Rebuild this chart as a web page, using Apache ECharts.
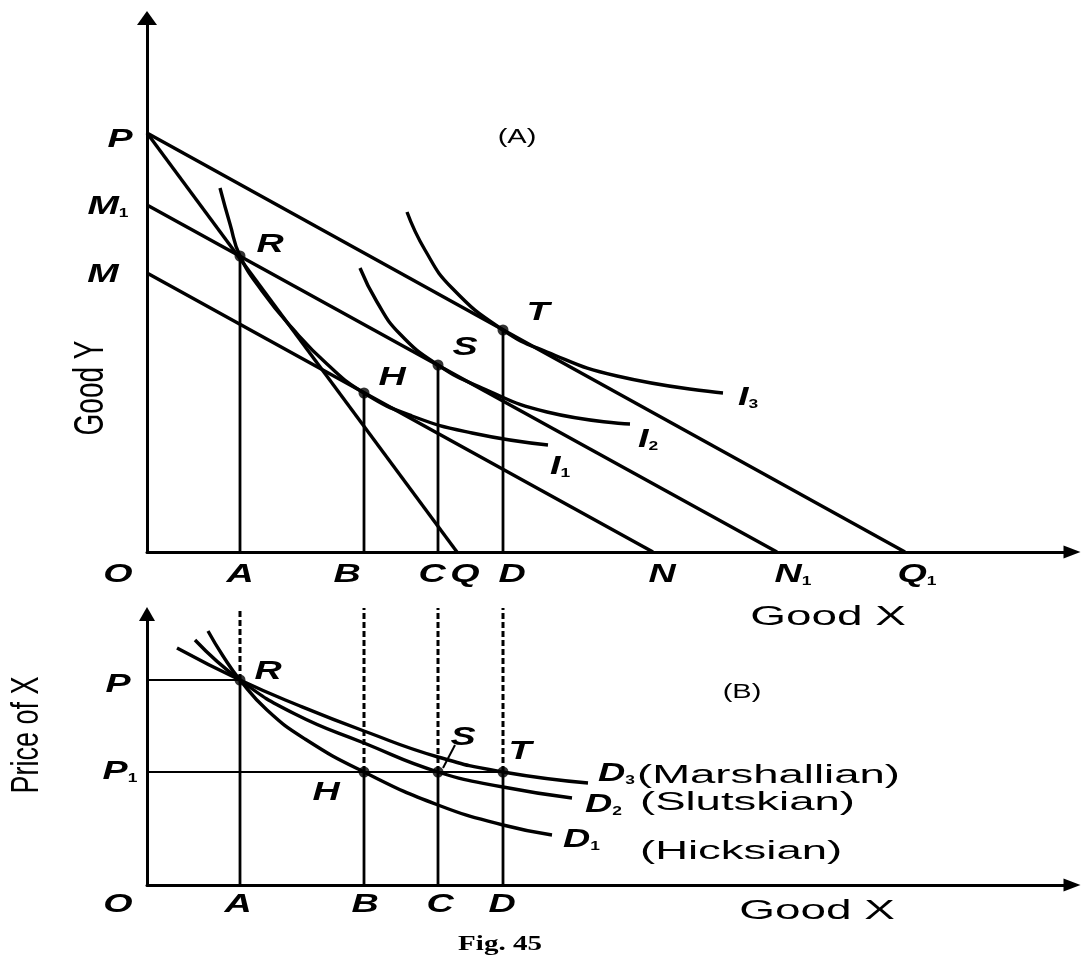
<!DOCTYPE html>
<html><head><meta charset="utf-8">
<script src="https://cdn.jsdelivr.net/npm/echarts@6/dist/echarts.min.js"></script>
<style>html,body{margin:0;padding:0;background:#fff}#c{width:1083px;height:961px}</style>
</head><body><div id="c"></div>
<script>
// ---------- data (axis units) ----------
// Panel A: budget lines [x, y]
const budgetPQ1  = [[0, 41.9], [75.8, 0]];
const budgetM1N1 = [[0, 34.7], [63.0, 0]];
const budgetMN   = [[0, 27.9], [50.6, 0]];
const budgetPQ   = [[0, 41.9], [31.0, 0]];
// quantities demanded at the equilibria R, H, S, T
const qtyX   = [9.3, 21.7, 29.1, 35.6];
const eqYA   = [29.6, 15.9, 18.7, 22.2];   // Good Y at R, H, S, T
const priceB = [20.5, 11.3, 11.3, 11.3];   // price at R, H, S, T
const dashTop = 27.7;
// indifference curves
const curveI1 = [[7.3,36.4],[8.3,32.8],[9.3,29.6],[11.5,26.1],[14.5,22.4],[18.0,18.8],[21.7,15.9],[26.5,13.6],[32.5,11.9],[40.1,10.7]];
const curveI2 = [[21.3,28.4],[23.0,25.0],[25.3,21.8],[29.1,18.7],[33.5,16.4],[40.0,14.0],[48.3,12.8]];
const curveI3 = [[26.0,34.0],[27.8,30.2],[30.5,26.4],[35.6,22.2],[40.0,20.0],[47.0,17.6],[57.6,15.9]];
// Panel B: demand curves
const curveD1 = [[6.1,25.4],[7.6,22.9],[9.3,20.5],[12.0,17.5],[15.8,14.6],[21.7,11.3],[29.1,8.0],[35.6,6.0],[40.5,5.0]];
const curveD2 = [[4.8,24.5],[9.3,20.5],[14.8,17.1],[21.7,14.2],[29.1,11.3],[35.6,9.8],[42.5,8.7]];
const curveD3 = [[3.0,23.7],[9.3,20.5],[15.3,17.9],[21.7,15.4],[29.1,12.8],[35.6,11.3],[44.1,10.2]];
const leaderS = [[29.6,11.7],[30.8,14.0]];
// text labels [text, x, y]
const labelsA = [['P',-2.7,41.2],['M_1',-3.9,34.5],['M',-4.4,27.7],['R',12.3,30.7],['H',24.5,17.4],['S',31.8,20.4],['T',39.1,23.9],
  ['I_3',60.1,15.4],['I_2',50.1,11.2],['I_1',41.3,8.5],['O',-2.9,-2.3],['A',9.3,-2.3],['B',20.0,-2.3],['C',28.5,-2.3],
  ['Q',31.8,-2.3],['D',36.5,-2.3],['N',51.5,-2.3],['N_1',64.6,-2.3],['Q_1',77.0,-2.3]];
const labelsB = [['P',-2.9,20.0],['P_1',-2.7,11.3],['R',12.1,21.3],['S',31.6,14.7],['T',37.3,13.3],['H',17.9,9.2],
  ['O',-2.9,-2.0],['A',9.1,-2.0],['B',21.8,-2.0],['C',29.3,-2.0],['D',35.5,-2.0]];
const demandLabels = [['D_3',45.1,11.1],['D_2',43.8,8.0],['D_1',41.6,4.5]];
const demandNames  = [['(Marshallian)',49.0,10.9],['(Slutskian)',49.3,8.2],['(Hicksian)',49.3,3.3]];
const wordsA = [['(A)',37.0,41.5],['Good X',68.1,-6.6]];
const wordsB = [['(B)',59.5,19.3],['Good X',67.0,-2.7]];
const axisTitleA = ['Good Y',-5.6,16.4];
const axisTitleB = ['Price of X',-11.95,15.0];
const figCaption = ['Fig. 45',35.3,-6.0];

// ---------- chart ----------
const chart = echarts.init(document.getElementById('c'), null, {renderer:'canvas'});
const BLACK = '#000';
function line(gi, data, opts) {
  return Object.assign({type:'line', xAxisIndex:gi, yAxisIndex:gi, data:data, symbol:'none', silent:true,
    clip:false, lineStyle:{color:BLACK, width:3.4}}, opts || {});
}
function curve(gi, data) {
  return line(gi, data, {smooth:0.5});
}
function axisCommon(extra) {
  return Object.assign({type:'value', min:0, axisTick:{show:false}, axisLabel:{show:false}, splitLine:{show:false}}, extra);
}
const series = [];
// panel A
[budgetPQ1, budgetM1N1, budgetMN, budgetPQ].forEach(b => series.push(line(0, b)));
qtyX.forEach((x, i) => series.push(line(0, [[x, 0], [x, eqYA[i]]], {lineStyle:{color:BLACK, width:2.8}})));
[curveI1, curveI2, curveI3].forEach(c => series.push(curve(0, c)));
series.push({type:'scatter', xAxisIndex:0, yAxisIndex:0, silent:true, symbolSize:11, itemStyle:{color:BLACK},
  data: qtyX.map((x, i) => [x, eqYA[i]])});
// panel B
[curveD1, curveD2, curveD3].forEach(c => series.push(curve(1, c)));
series.push(line(1, [[0, priceB[0]], [qtyX[0], priceB[0]]], {lineStyle:{color:BLACK, width:2}}));
series.push(line(1, [[0, priceB[3]], [qtyX[3], priceB[3]]], {lineStyle:{color:BLACK, width:2}}));
qtyX.forEach((x, i) => {
  series.push(line(1, [[x, 0], [x, priceB[i]]], {lineStyle:{color:BLACK, width:2.8}}));
  series.push(line(1, [[x, priceB[i]], [x, dashTop]], {lineStyle:{color:BLACK, width:3, type:[6,3]}}));
});
series.push(line(1, leaderS, {lineStyle:{color:BLACK, width:2}}));
series.push({type:'scatter', xAxisIndex:1, yAxisIndex:1, silent:true, symbolSize:11, itemStyle:{color:BLACK},
  data: qtyX.map((x, i) => [x, priceB[i]])});

chart.setOption({
  animation:false,
  backgroundColor:'#fff',
  grid:[{left:147, right:11, top:18, bottom:409, containLabel:false, outerBoundsMode:'none'},
        {left:147, right:11, top:614, bottom:76, containLabel:false, outerBoundsMode:'none'}],
  xAxis:[axisCommon({gridIndex:0, max:92.5, axisLine:{show:true, onZero:false, symbol:['none','triangle'], symbolSize:[13,17], lineStyle:{color:BLACK, width:3}}}),
         axisCommon({gridIndex:1, max:92.5, axisLine:{show:true, onZero:false, symbol:['none','triangle'], symbolSize:[13,17], lineStyle:{color:BLACK, width:3}}})],
  yAxis:[axisCommon({gridIndex:0, max:53.4, axisLine:{show:true, onZero:false, symbol:['none','triangle'], symbolSize:[20,14], lineStyle:{color:BLACK, width:3}}}),
         axisCommon({gridIndex:1, max:27.1, axisLine:{show:true, onZero:false, symbol:['none','triangle'], symbolSize:[16,14], lineStyle:{color:BLACK, width:3}}})],
  series: series
});

// ---------- texts ----------
const FONT = 'Liberation Sans';
const SX = 1.45;
const rich = {
  i:{fontStyle:'italic', fontWeight:'bold', fontSize:26, fontFamily:FONT, fill:BLACK},
  s:{fontSize:12, fontWeight:'bold', fontFamily:FONT, fill:BLACK, verticalAlign:'bottom'}
};
function richText(t) {
  const p = t.split('_');
  return p.length > 1 ? '{i|' + p[0] + '}{s|' + p[1] + '}' : '{i|' + t + '}';
}
const graphics = [];
function pos(gi, x, y) { return chart.convertToPixel({gridIndex:gi}, [x, y]); }
function letter(gi, item, align) {
  const p = pos(gi, item[1], item[2]);
  graphics.push({type:'text', x:p[0], y:p[1], scaleX:SX, silent:true,
    style:{text:richText(item[0]), rich:rich, align:align || 'center', verticalAlign:'middle', fill:BLACK}});
}
function word(gi, item, size, sx) {
  const p = pos(gi, item[1], item[2]);
  graphics.push({type:'text', x:p[0], y:p[1], scaleX:sx, silent:true,
    style:{text:item[0], fontSize:size, fontFamily:FONT, fill:BLACK, align:'center', verticalAlign:'middle'}});
}
labelsA.forEach(l => letter(0, l));
labelsB.forEach(l => letter(1, l));
demandLabels.forEach(l => letter(1, l, 'left'));
demandNames.forEach(l => {
  const p = pos(1, l[1], l[2]);
  graphics.push({type:'text', x:p[0], y:p[1], scaleX:1.82, silent:true,
    style:{text:l[0], fontSize:25, fontFamily:FONT, fill:BLACK, align:'left', verticalAlign:'middle'}});
});
word(0, wordsA[0], 20, 1.45);
word(0, wordsA[1], 27, 1.7);
word(1, wordsB[0], 20, 1.45);
word(1, wordsB[1], 27, 1.7);
(function(){
  let p = pos(0, axisTitleA[1], axisTitleA[2]);
  graphics.push({type:'text', x:p[0], y:p[1], rotation:Math.PI/2, scaleY:1.5, silent:true,
    style:{text:axisTitleA[0], fontSize:28, fontFamily:FONT, fill:BLACK, align:'center', verticalAlign:'middle'}});
  p = pos(1, axisTitleB[1], axisTitleB[2]);
  graphics.push({type:'text', x:p[0], y:p[1], rotation:Math.PI/2, scaleY:1.45, silent:true,
    style:{text:axisTitleB[0], fontSize:27, fontFamily:FONT, fill:BLACK, align:'center', verticalAlign:'middle'}});
  p = pos(1, figCaption[1], figCaption[2]);
  graphics.push({type:'text', x:p[0], y:p[1], scaleX:1.45, silent:true,
    style:{text:figCaption[0], fontSize:20, fontWeight:'bold', fontFamily:'Liberation Serif', fill:BLACK, align:'center', verticalAlign:'middle'}});
})();
chart.setOption({graphic: graphics});
</script></body></html>
